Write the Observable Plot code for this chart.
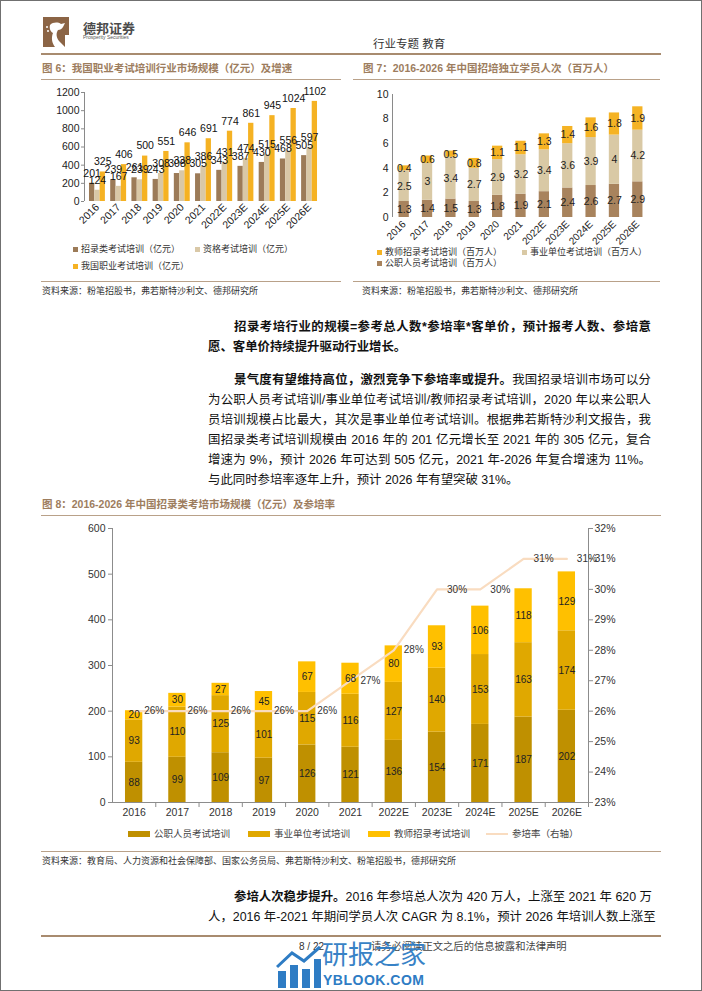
<!DOCTYPE html>
<html><head><meta charset="utf-8">
<script src="https://cdn.jsdelivr.net/npm/d3@7"></script>
<script src="https://cdn.jsdelivr.net/npm/@observablehq/plot@0.6"></script>
<style>
body{margin:0;background:#fff;}
#page{position:relative;width:702px;height:991px;box-sizing:border-box;border:1px solid #707070;overflow:hidden;font-family:"Liberation Sans","Noto Sans CJK SC",sans-serif;color:#222;background:#fff;}
.hl{position:absolute;height:0;border-top:1px solid #b9a189;}
.ft{position:absolute;font-size:10.5px;font-weight:bold;color:#9d7d5e;white-space:nowrap;line-height:1;}
.src{position:absolute;font-size:9px;color:#333;white-space:nowrap;line-height:1;}
.leg{position:absolute;font-size:9px;color:#333;white-space:nowrap;line-height:1;display:flex;align-items:center;}
.sw{display:inline-block;width:5px;height:5px;margin-right:3px;}
.sw8{display:inline-block;width:22px;height:6px;margin-right:4px;}
.tl{position:absolute;font-size:12.4px;line-height:1;white-space:nowrap;color:#111;}
.j{text-align:justify;text-align-last:justify;}
.plot{position:absolute;}
</style></head>
<body>
<div id="page"></div>
<script>
// ---------- data ----------
const years = ["2016","2017","2018","2019","2020","2021","2022E","2023E","2024E","2025E","2026E"];

// Fig 6: market size (亿元)
const f6Names = ["招录类考试培训（亿元）","资格考试培训（亿元）","我国职业考试培训（亿元）"];
const f6Recruit = [201,239,261,243,308,305,343,387,430,468,505];
const f6Qualify = [124,167,239,308,338,386,431,474,515,556,597];
const f6Total   = [325,406,500,551,646,691,774,861,945,1024,1102];
const f6Ticks = [0,200,400,600,800,1000,1200];

// Fig 7: students (百万人)
const f7Names = ["公职人员考试培训（百万人）","事业单位考试培训（百万人）","教师招录考试培训（百万人）"];
const f7Gov     = [1.3,1.4,1.5,1.3,1.8,1.9,2.1,2.4,2.6,2.7,2.9];
const f7Inst    = [2.5,3,3.4,2.7,2.9,3.2,3.4,3.6,3.9,4,4.2];
const f7Teacher = [0.4,0.6,0.5,0.8,1.1,1.1,1.3,1.4,1.6,1.8,1.9];
const f7Ticks = [0,2,4,6,8,10];

// Fig 8: recruitment exam training (亿元) and participation rate
const f8Names = ["公职人员考试培训","事业单位考试培训","教师招录考试培训","参培率（右轴）"];
const f8Gov     = [88,99,109,97,126,121,136,154,171,187,202];
const f8Inst    = [93,110,125,101,115,116,127,140,153,163,174];
const f8Teacher = [20,30,27,45,67,68,80,93,106,118,129];
const f8Rate    = [26,26,26,26,26,27,28,30,30,31,31];
const f8LeftTicks = [0,100,200,300,400,500,600];
const f8RateTicks = [23,24,25,26,27,28,29,30,31,32];

// colors
const c6 = ["#9c7b58","#d9c8a7","#f5b223"];
const c7 = ["#a8835d","#d9c9a5","#f5b324"];
const c8 = ["#bf9000","#e0a800","#ffc000","#f9dcc0"];

const FONT = "Liberation Sans, Noto Sans CJK SC, sans-serif";
const page = document.getElementById("page");
function el(tag, cls, css, html){const e=document.createElement(tag); if(cls) e.className=cls; Object.assign(e.style,css||{}); if(html!==undefined) e.innerHTML=html; page.appendChild(e); return e;}
function place(node, left, top){const w=document.createElement("div"); w.className="plot"; w.style.left=left+"px"; w.style.top=top+"px"; w.appendChild(node); page.appendChild(w);}
const plain = d => String(d);

// ---------- header ----------
el("div","",{position:"absolute",left:"40px",top:"14px",width:"30px",height:"34px"},
 `<svg width="30" height="34" viewBox="0 0 30 34">
   <rect x="2" y="2" width="26" height="30" fill="#8b6445"/>
   <path d="M9 10 C12 7 17 7 20 9 L24 8 L22 12 C21 14 19 15 17 15 C15 18 15 22 18 26 L24 32 L14 32 C11 28 10 23 12 18 C10 17 8 14 9 10 Z" fill="#fff"/>
   <circle cx="6" cy="12" r="1" fill="#fff"/><circle cx="7" cy="16" r="1" fill="#fff"/>
   <rect x="24" y="20" width="4" height="12" fill="#fff"/>
 </svg>`);
el("div","",{position:"absolute",left:"82px",top:"21px",fontSize:"13px",fontWeight:"bold",color:"#4b4b4b",lineHeight:"1",whiteSpace:"nowrap"},"德邦证券");
el("div","",{position:"absolute",left:"82px",top:"34px",fontSize:"5px",color:"#555",lineHeight:"1",whiteSpace:"nowrap"},"Prosperity Securities");
el("div","",{position:"absolute",left:"372px",top:"38px",fontSize:"11.5px",color:"#333",lineHeight:"1",whiteSpace:"nowrap"},"行业专题 教育");
el("div","hl",{left:"40px",top:"52px",width:"620px",borderTop:"2px solid #a88b6f"});

// ---------- Figure 6 ----------
el("div","ft",{left:"41px",top:"62px"},"图 6：我国职业考试培训行业市场规模（亿元）及增速");
el("div","hl",{left:"40px",top:"78px",width:"300px"});
{
  const series = [f6Recruit,f6Qualify,f6Total];
  const marks = [];
  const lab = [];
  series.forEach((vals,k)=>{
    const rows = vals.map((v,i)=>({x1:i+(k-1.5)*0.25, x2:i+(k-0.5)*0.25, xc:i+(k-1)*0.25, v}));
    marks.push(Plot.rectY(rows,{x1:"x1",x2:"x2",y1:0,y2:"v",fill:c6[k]}));
    lab.push(Plot.text(rows,{x:"xc",y:"v",text:d=>String(d.v),dy:-10,fontSize:10.5,fill:"#111"}));
  });
  const p = Plot.plot({
    width:300,height:165,marginTop:11,marginBottom:45,marginLeft:43,marginRight:19,
    x:{domain:[-0.61,10.61],label:null},
    y:{domain:[0,1200],label:null},
    style:{fontFamily:FONT,fontSize:"10px",color:"#222",background:"transparent"},
    marks:[
      ...marks,
      Plot.ruleX([-0.61],{stroke:"#8a8a8a"}),
      Plot.axisY({ticks:f6Ticks,tickFormat:plain,label:null,tickSize:3,tickPadding:2,stroke:"#8a8a8a",fontSize:10.5}),
      Plot.axisX({ticks:d3.range(years.length),tickFormat:i=>years[i],label:null,tickRotate:-45,tickSize:0,tickPadding:4,fontSize:10.5}),
      ...lab
    ]
  });
  place(p,40,80);
}
el("div","leg",{left:"72px",top:"244px"},`<span class="sw" style="background:${c6[0]}"></span>${f6Names[0]}`);
el("div","leg",{left:"194px",top:"244px"},`<span class="sw" style="background:${c6[1]}"></span>${f6Names[1]}`);
el("div","leg",{left:"72px",top:"261px"},`<span class="sw" style="background:${c6[2]}"></span>${f6Names[2]}`);
el("div","hl",{left:"40px",top:"280px",width:"300px"});
el("div","src",{left:"41px",top:"286px"},"资料来源：粉笔招股书，弗若斯特沙利文、德邦研究所");

// ---------- Figure 7 ----------
el("div","ft",{left:"362px",top:"62px"},"图 7：2016-2026 年中国招培独立学员人次（百万人）");
el("div","hl",{left:"352px",top:"78px",width:"307px"});
{
  const series = [f7Gov,f7Inst,f7Teacher];
  const rows = [];
  years.forEach((y,i)=>{
    let base = 0;
    series.forEach((vals,k)=>{
      const v = vals[i];
      rows.push({k, x1:i-0.22, x2:i+0.22, xc:i, y1:base, y2:base+v, ym:base+v/2, v});
      base += v;
    });
  });
  const p = Plot.plot({
    width:309,height:175,marginTop:13,marginBottom:39,marginLeft:40,marginRight:12,
    x:{domain:[-0.5,10.5],label:null},
    y:{domain:[0,10],label:null},
    style:{fontFamily:FONT,fontSize:"10px",color:"#222",background:"transparent"},
    marks:[
      ...[0,1,2].map(k=>Plot.rectY(rows.filter(r=>r.k===k),{x1:"x1",x2:"x2",y1:"y1",y2:"y2",fill:c7[k]})),
      Plot.ruleX([-0.5],{stroke:"#8a8a8a"}),
      Plot.axisY({ticks:f7Ticks,tickFormat:plain,label:null,tickSize:0,tickPadding:4,fontSize:10.5}),
      Plot.axisX({ticks:d3.range(years.length),tickFormat:i=>years[i],label:null,tickRotate:-45,tickSize:0,tickPadding:5,fontSize:10}),
      Plot.text(rows,{x:"xc",y:"ym",text:d=>String(d.v),fontSize:10.5,fill:"#222"})
    ]
  });
  place(p,351,80);
}
el("div","leg",{left:"376px",top:"247px"},`<span class="sw" style="background:${c7[2]}"></span>${f7Names[2]}`);
el("div","leg",{left:"521px",top:"247px"},`<span class="sw" style="background:${c7[1]}"></span>${f7Names[1]}`);
el("div","leg",{left:"376px",top:"258px"},`<span class="sw" style="background:${c7[0]}"></span>${f7Names[0]}`);
el("div","hl",{left:"352px",top:"280px",width:"307px"});
el("div","src",{left:"361px",top:"286px"},"资料来源：粉笔招股书，弗若斯特沙利文、德邦研究所");

// ---------- body text ----------
function tline(left, center, width, html, just){
  el("div","tl"+(just?" j":""),{left:left+"px",top:(center-7)+"px",width:width+"px"},html);
}
tline(233,327,417,"<b>招录考培行业的规模=参考总人数*参培率*客单价，预计报考人数、参培意</b>",true);
tline(207,347,443,"<b>愿、客单价持续提升驱动行业增长。</b>",false);
tline(233,380,417,"<b>景气度有望维持高位，激烈竞争下参培率或提升。</b>我国招录培训市场可以分",true);
tline(207,400,443,"为公职人员考试培训/事业单位考试培训/教师招录考试培训，2020 年以来公职人",true);
tline(207,420,443,"员培训规模占比最大，其次是事业单位考试培训。根据弗若斯特沙利文报告，我",true);
tline(207,440,443,"国招录类考试培训规模由 2016 年的 201 亿元增长至 2021 年的 305 亿元，复合",true);
tline(207,460,443,"增速为 9%，预计 2026 年可达到 505 亿元，2021 年-2026 年复合增速为 11%。",true);
tline(207,480,443,"与此同时参培率逐年上升，预计 2026 年有望突破 31%。",false);

// ---------- Figure 8 ----------
el("div","ft",{left:"41px",top:"498px"},"图 8：2016-2026 年中国招录类考培市场规模（亿元）及参培率");
el("div","hl",{left:"40px",top:"514px",width:"620px"});
{
  const series = [f8Gov,f8Inst,f8Teacher];
  const rows = [];
  years.forEach((y,i)=>{
    let base = 0;
    series.forEach((vals,k)=>{
      const v = vals[i];
      rows.push({k, x1:i-0.2, x2:i+0.2, xc:i, y1:base, y2:base+v, ym:base+v/2, v});
      base += v;
    });
  });
  // right axis (23%–32%) mapped onto the left axis (0–600)
  const r2l = d3.scaleLinear().domain([23,32]).range([0,600]);
  const rateRows = f8Rate.map((r,i)=>({i, r, y:r2l(r)}));
  const p = Plot.plot({
    width:620,height:305,marginTop:7,marginBottom:24,marginLeft:71,marginRight:73,
    x:{domain:[-0.5,10.5],label:null},
    y:{domain:[0,600],label:null},
    style:{fontFamily:FONT,fontSize:"10px",color:"#333",background:"transparent"},
    marks:[
      ...[0,1,2].map(k=>Plot.rectY(rows.filter(r=>r.k===k),{x1:"x1",x2:"x2",y1:"y1",y2:"y2",fill:c8[k]})),
      Plot.ruleX([-0.5,10.5],{stroke:"#8c8c8c"}),
      Plot.ruleY([0],{stroke:"#8c8c8c"}),
      Plot.ruleX(d3.range(years.length),{x:d=>d+0.5,y1:0,y2:-11,stroke:"#8c8c8c",clip:false}),
      Plot.axisY({ticks:f8LeftTicks,tickFormat:plain,label:null,tickSize:4,tickPadding:3,stroke:"#8c8c8c",fontSize:10.5}),
      Plot.axisY({anchor:"right",ticks:f8RateTicks.map(r2l),tickFormat:v=>Math.round(r2l.invert(v))+"%",label:null,tickSize:4,tickPadding:2,stroke:"#8c8c8c",fontSize:10.5}),
      Plot.axisX({ticks:d3.range(years.length),tickFormat:i=>years[i],label:null,tickSize:0,tickPadding:6,fontSize:10.5}),
      Plot.line(rateRows,{x:"i",y:"y",stroke:c8[3],strokeWidth:2.2}),
      Plot.text(rows,{x:"xc",y:"ym",text:d=>String(d.v),fontSize:10,fill:"#222"}),
      Plot.text(rateRows,{x:"i",y:"y",text:d=>d.r+"%",dx:10,textAnchor:"start",fontSize:10,fill:"#333"})
    ]
  });
  place(p,40,520);
}
el("div","leg",{left:"127px",top:"828px",fontSize:"9.5px",color:"#444"},`<span class="sw8" style="background:${c8[0]}"></span>${f8Names[0]}`);
el("div","leg",{left:"247px",top:"828px",fontSize:"9.5px",color:"#444"},`<span class="sw8" style="background:${c8[1]}"></span>${f8Names[1]}`);
el("div","leg",{left:"367px",top:"828px",fontSize:"9.5px",color:"#444"},`<span class="sw8" style="background:${c8[2]}"></span>${f8Names[2]}`);
el("div","leg",{left:"485px",top:"828px",fontSize:"9.5px",color:"#444"},`<span class="sw8" style="background:${c8[3]};height:2px"></span>${f8Names[3]}`);
el("div","hl",{left:"40px",top:"850px",width:"620px"});
el("div","src",{left:"41px",top:"856px"},"资料来源：教育局、人力资源和社会保障部、国家公务员局、弗若斯特沙利文、粉笔招股书，德邦研究所");

tline(233,897,417,"<b>参培人次稳步提升。</b>2016 年参培总人次为 420 万人，上涨至 2021 年 620 万",true);
tline(207,917,443,"人，2016 年-2021 年期间学员人次 CAGR 为 8.1%，预计 2026 年培训人数上涨至",true);

// ---------- footer ----------
el("div","hl",{left:"40px",top:"934px",width:"620px",borderTop:"2px solid #a88b6f"});
el("div","",{position:"absolute",left:"298px",top:"941px",fontSize:"10px",color:"#333",lineHeight:"1",whiteSpace:"nowrap"},"8 / 22");
el("div","",{position:"absolute",left:"370px",top:"941px",fontSize:"10.3px",color:"#444",lineHeight:"1",whiteSpace:"nowrap"},"请务必阅读正文之后的信息披露和法律声明");
// watermark
el("div","",{position:"absolute",left:"275px",top:"944px",width:"46px",height:"44px"},
 `<svg width="46" height="44" viewBox="0 0 46 44">
   <rect x="2" y="26" width="8" height="17" fill="#2e7cc4"/>
   <rect x="14" y="20" width="8" height="23" fill="#2e7cc4"/>
   <rect x="26" y="24" width="8" height="19" fill="#2e7cc4"/>
   <rect x="38" y="14" width="7" height="29" fill="#2e7cc4"/>
   <path d="M1 22 L16 8 L28 16 L44 2" stroke="#2e7cc4" stroke-width="3" fill="none"/>
 </svg>`);
el("div","",{position:"absolute",left:"321px",top:"941px",fontSize:"26px",color:"#2e7cc4",lineHeight:"1",whiteSpace:"nowrap",opacity:"0.95"},"研报之家");
el("div","",{position:"absolute",left:"322px",top:"972px",fontSize:"14px",fontWeight:"bold",color:"#2e7cc4",lineHeight:"1",whiteSpace:"nowrap",letterSpacing:"0.5px"},"YBLOOK.COM");
</script>
</body></html>
